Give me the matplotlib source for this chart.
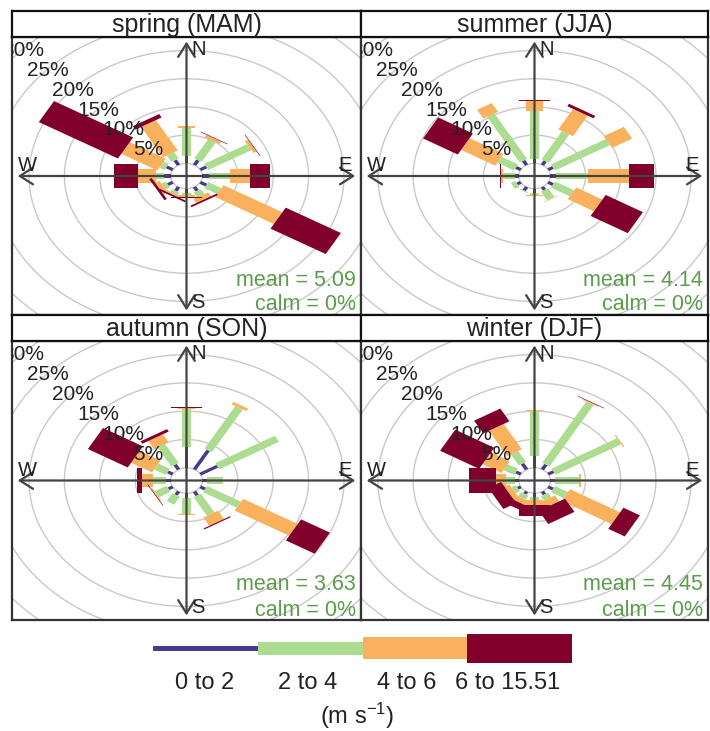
import numpy as np
import matplotlib
matplotlib.use("Agg")
import matplotlib.pyplot as plt
from matplotlib.patches import Polygon, Rectangle

plt.rcParams['font.family'] = ['Liberation Sans', 'DejaVu Sans']
plt.rcParams['mathtext.fontset'] = 'custom'
plt.rcParams['mathtext.rm'] = 'Liberation Sans'
plt.rcParams['mathtext.default'] = 'regular'

# ---------------- data ----------------
directions = [0, 30, 60, 90, 120, 150, 180, 210, 240, 270, 300, 330]
speed_labels = ["0 to 2", "2 to 4", "4 to 6", "6 to 15.51"]
speed_unit = r"(m s$^{-1}$)"
seasons = ["spring (MAM)", "summer (JJA)", "autumn (SON)", "winter (DJF)"]
mean_speed = [5.09, 4.14, 3.63, 4.45]
calm_pct = [0, 0, 0, 0]

# frequency (%) per speed bin (rows) and direction (columns)
spring = [
    [1.3, 1.0, 1.0, 1.0, 1.0, 0.8, 0.8, 0.8, 0.8, 1.0, 1.0, 1.0],
    [5.0, 4.0, 7.0, 2.9, 2.1, 1.0, 0.4, 0.5, 0.7, 1.0, 0.8, 1.3],
    [0.4, 0.5, 0.5, 2.8, 9.6, 0.8, 0.2, 0.3, 0.7, 2.6, 5.9, 6.2],
    [0.0, 0.1, 0.1, 2.8, 9.0, 0.3, 0.3, 0.3, 0.4, 3.4, 12.9, 0.7],
]
summer = [
    [0.7, 0.8, 0.8, 0.8, 0.8, 0.6, 0.8, 0.7, 0.6, 0.6, 0.8, 0.9],
    [8.5, 5.8, 9.0, 4.5, 3.1, 1.8, 0.4, 0.2, 0.7, 1.6, 2.7, 9.3],
    [1.9, 4.2, 3.3, 5.9, 4.3, 0.1, 0.1, 0.0, 0.0, 0.3, 5.6, 1.8],
    [0.1, 0.5, 0.0, 3.5, 6.1, 0.0, 0.0, 0.0, 0.0, 0.2, 5.7, 0.0],
]
autumn = [
    [3.6, 3.9, 2.8, 0.6, 0.8, 0.8, 0.8, 0.7, 0.7, 0.6, 0.8, 1.0],
    [6.8, 8.7, 9.7, 2.3, 5.5, 3.8, 2.8, 1.6, 1.9, 1.9, 1.9, 3.9],
    [0.2, 0.5, 0.0, 0.0, 8.9, 1.7, 0.3, 0.0, 0.2, 1.6, 3.4, 1.6],
    [0.2, 0.0, 0.0, 0.0, 4.7, 0.2, 0.0, 0.0, 0.1, 0.7, 6.5, 0.5],
]
winter = [
    [2.1, 1.0, 0.9, 0.7, 0.8, 0.6, 0.6, 0.5, 0.5, 0.6, 0.8, 1.2],
    [7.9, 12.5, 10.7, 3.4, 2.1, 0.9, 0.6, 0.8, 0.7, 1.2, 1.7, 2.2],
    [0.2, 0.2, 0.2, 0.2, 8.2, 1.2, 0.8, 0.9, 0.8, 1.4, 3.1, 5.2],
    [0.0, 0.1, 0.0, 0.0, 2.7, 2.7, 2.1, 1.1, 2.1, 3.8, 6.4, 2.6],
]
season_data = [spring, summer, autumn, winter]

# ---------------- style ----------------
colors = ['#48398c', '#abdc90', '#f9b15d', '#80002b']
grid_col = '#c9c9c9'
axis_col = '#444444'
frame_col = '#333333'
green_txt = '#5a9e4c'

W, H = 710, 731
fig = plt.figure(figsize=(W / 100, H / 100), dpi=100)

def px_axes(x0, x1, y0, y1):
    return fig.add_axes([x0 / W, 1 - y1 / H, (x1 - x0) / W, (y1 - y0) / H])

cols = [(12, 361), (361, 708)]
plot_rows = [(37, 315), (341, 620)]
strip_rows = [(11, 37), (315, 341)]

max_freq = 22.4
off = max_freq * 0.10
grid_step = 5
grid_max = 2 * max_freq
lim = max_freq + off
angle = 30
half_w = (np.linspace(0.002 ** 0.25, 0.016 ** 0.25, len(speed_labels)) ** 4) * max_freq * angle / 5

t = np.linspace(0, 2 * np.pi, 361)

for p, (name, data) in enumerate(zip(seasons, season_data)):
    r_i, c_i = divmod(p, 2)
    x0, x1 = cols[c_i]
    y0, y1 = plot_rows[r_i]
    ax = px_axes(x0, x1, y0, y1)
    ax.set_xlim(-lim, lim)
    ax.set_ylim(-lim, lim)
    ax.set_xticks([])
    ax.set_yticks([])
    for s in ax.spines.values():
        s.set_color(frame_col)
        s.set_linewidth(1.6)

    # grid circles
    for rr in np.arange(off, grid_max + 1e-9, grid_step):
        ax.plot(rr * np.sin(t), rr * np.cos(t), color=grid_col, lw=1.0, zorder=1)

    # bars
    cum = np.cumsum(np.array(data), axis=0)
    for i, wd in enumerate(directions):
        th = np.deg2rad(wd)
        for j in range(len(speed_labels)):
            l1 = 0 if j == 0 else cum[j - 1][i]
            l2 = cum[j][i]
            if l2 - l1 <= 0:
                continue
            a1, a2 = l1 + off, l2 + off
            w = half_w[j]
            xs = [a1 * np.sin(th) - w * np.cos(th), a1 * np.sin(th) + w * np.cos(th),
                  a2 * np.sin(th) + w * np.cos(th), a2 * np.sin(th) - w * np.cos(th)]
            ys = [a1 * np.cos(th) + w * np.sin(th), a1 * np.cos(th) - w * np.sin(th),
                  a2 * np.cos(th) - w * np.sin(th), a2 * np.cos(th) + w * np.sin(th)]
            ax.add_patch(Polygon(list(zip(xs, ys)), closed=True, facecolor=colors[j],
                                 edgecolor='none', zorder=2 + j * 0.01))

    # axes arrows
    al = 0.967 * lim
    ap = dict(arrowstyle='<->,head_length=0.95,head_width=0.6', color=axis_col, lw=1.6,
              shrinkA=0, shrinkB=0, mutation_scale=10)
    ax.annotate('', xy=(-al, 0), xytext=(al, 0), arrowprops=ap, zorder=4)
    ax.annotate('', xy=(0, -al), xytext=(0, al), arrowprops=ap, zorder=4)

    # percentage labels
    radii = np.arange(grid_step + off, grid_max + 1e-9, grid_step)
    for k, rr in enumerate(radii):
        tx = ax.annotate(f"{(k + 1) * grid_step}%",
                         xy=(rr * np.sin(np.deg2rad(315)), rr * np.cos(np.deg2rad(315))),
                         xytext=(-1.5, -2), textcoords='offset points',
                         ha='center', va='center', fontsize=15, color='#222222',
                         annotation_clip=False, zorder=5)
        tx.set_clip_on(True)
        tx.set_clip_box(ax.bbox)

    # compass letters
    ax.annotate('N', xy=(0, max_freq), xytext=(3.5, 0), textcoords='offset points',
                ha='left', va='center', fontsize=14.5, color='#222222', zorder=5)
    ax.annotate('S', xy=(0, -max_freq), xytext=(3.5, 0), textcoords='offset points',
                ha='left', va='center', fontsize=14.5, color='#222222', zorder=5)
    ax.annotate('E', xy=(max_freq, 0), xytext=(0, 0.5), textcoords='offset points',
                ha='center', va='bottom', fontsize=14.5, color='#222222', zorder=5)
    ax.annotate('W', xy=(-max_freq, 0), xytext=(0, 0.5), textcoords='offset points',
                ha='center', va='bottom', fontsize=14.5, color='#222222', zorder=5)

    pw, ph = x1 - x0, y1 - y0
    ax.text(1 - 5 / pw, 35 / ph, f"mean = {mean_speed[p]:.2f}", transform=ax.transAxes,
            ha='right', va='center', fontsize=15.5, color=green_txt, zorder=6)
    ax.text(1 - 5 / pw, 10 / ph, f"calm = {calm_pct[p]}%", transform=ax.transAxes,
            ha='right', va='center', fontsize=15.5, color=green_txt, zorder=6)

    # strip
    sy0, sy1 = strip_rows[r_i]
    sax = px_axes(x0, x1, sy0, sy1)
    sax.set_xticks([])
    sax.set_yticks([])
    for s in sax.spines.values():
        s.set_color('#111111')
        s.set_linewidth(1.6)
    sax.text(0.5, 0.45, name, ha='center', va='center', fontsize=18, color='#222222',
             transform=sax.transAxes)

# ---------------- legend ----------------
lax = fig.add_axes([0, 0, 1, 1], zorder=-1)
lax.set_xlim(0, W)
lax.set_ylim(H, 0)
lax.axis('off')
leg_x0, leg_x1, leg_y = 153, 572, 648
seg_w = (leg_x1 - leg_x0) / len(speed_labels)
thick = [5, 13, 22, 29]
label_x = [205, 308, 407, 508]
for j, lab in enumerate(speed_labels):
    lax.add_patch(Rectangle((leg_x0 + j * seg_w, leg_y - thick[j] / 2), seg_w, thick[j],
                            facecolor=colors[j], edgecolor='none'))
    lax.text(label_x[j], 683, lab, ha='center', va='center', fontsize=17, color='#222222')
lax.text(357, 716, speed_unit, ha='center', va='center', fontsize=17, color='#222222')

fig.savefig('out.png', dpi=100)
